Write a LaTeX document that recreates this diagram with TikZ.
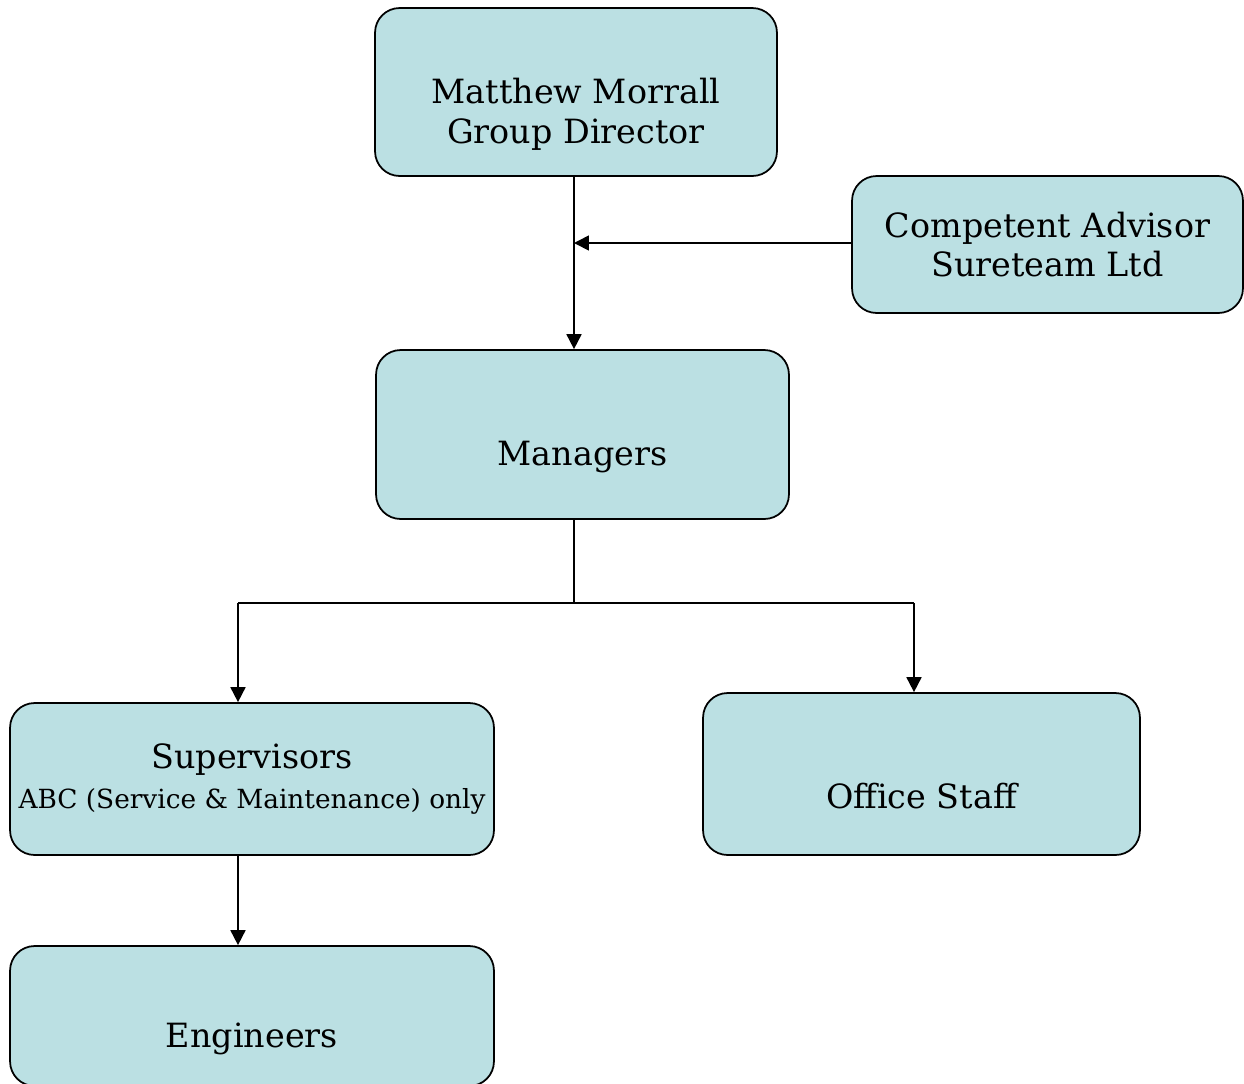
\documentclass[tikz,border=0pt]{standalone}
\usepackage{fontspec}
\setmainfont{DejaVu Serif}
\usetikzlibrary{arrows.meta}
\usetikzlibrary{positioning}
\definecolor{boxteal}{RGB}{187,224,227}
\newcommand{\toppad}{\rule{0pt}{40pt}}

\begin{document}
\begin{tikzpicture}[x=0.02cm, y=-0.02cm,
    orgbox/.style={draw, rectangle, rounded corners=14pt, fill=boxteal, line width=1pt, align=center, inner sep=0pt, font=\fontsize{19}{22.7}\selectfont},
    link/.style={line width=1pt},
    >={Triangle[length=8.5pt,width=8.5pt]}]
            \useasboundingbox (0,0) rectangle (1244,1083);
            \node[orgbox, minimum width=8.04cm, minimum height=3.36cm] (boss) at (576,92) {\toppad Matthew Morrall\\Group Director};
            \node[orgbox, minimum width=7.82cm, minimum height=2.74cm] (advisor) at (1047.5,244.5) {Competent Advisor\\Sureteam Ltd};
            \node[orgbox, minimum width=8.26cm, minimum height=3.38cm] (mgr) at (582.5,434.5) {\toppad Managers};
            \node[orgbox, minimum width=9.68cm, minimum height=3.04cm] (sup) at (252,779) {Supervisors\\{\fontsize{15}{18}\selectfont ABC (Service \& Maintenance) only}};
            \node[orgbox, minimum width=8.74cm, minimum height=3.24cm] (office) at (921.5,774) {\toppad Office Staff};
            \node[orgbox, minimum width=9.68cm, minimum height=2.8cm] (eng) at (252,1016) {\toppad Engineers};

            % joints of the connectors
            \coordinate (spine) at (574,243);
            \coordinate (split) at (574,603);
            \coordinate (leftdrop) at (238,603);
            \coordinate (rightdrop) at (914,603);

            \draw[link,->] (spine |- boss.south) -- (spine |- mgr.north);
            \draw[link,->] (advisor.west |- spine) -- (spine);
            \draw[link] (split |- mgr.south) -- (split);
            \draw[link] (leftdrop) -- (rightdrop);
            \draw[link,->] (leftdrop) -- (leftdrop |- sup.north);
            \draw[link,->] (rightdrop) -- (rightdrop |- office.north);
            \draw[link,->] (leftdrop |- sup.south) -- (leftdrop |- eng.north);
        \end{tikzpicture}
\end{document}
